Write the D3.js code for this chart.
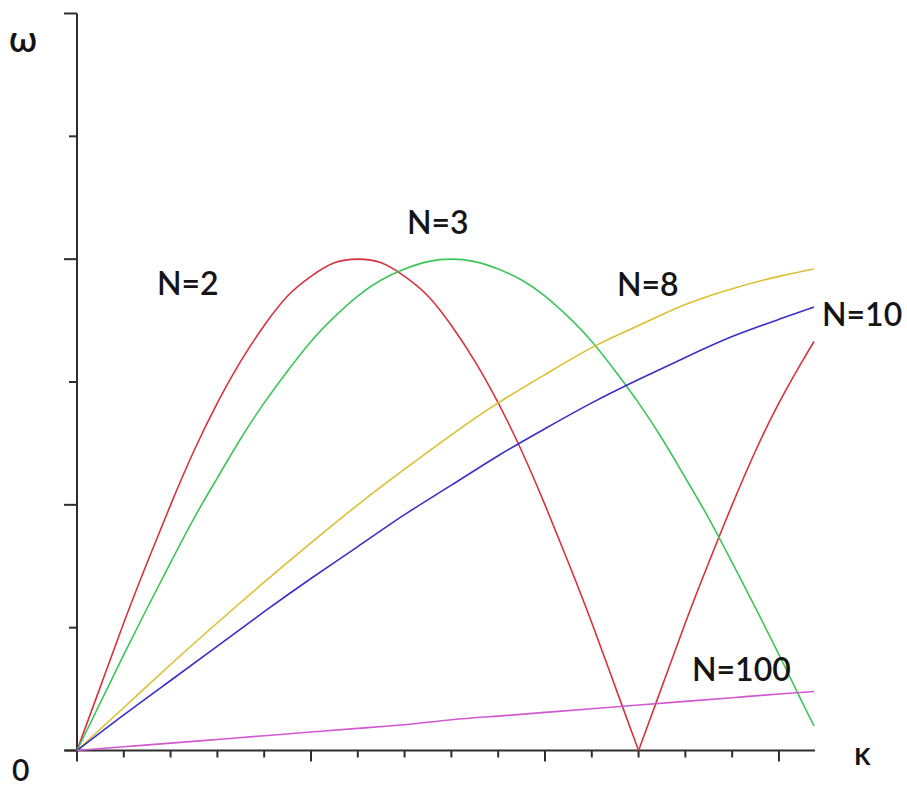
<!DOCTYPE html>
<html>
<head>
<meta charset="utf-8">
<script src="https://cdn.jsdelivr.net/npm/d3@7"></script>
<style>
  html, body { margin: 0; padding: 0; background: #ffffff; }
  svg { display: block; }
  text { font-family: Lato, "Open Sans", "DejaVu Sans", sans-serif; fill: #151515; font-weight: 600; }
</style>
</head>
<body>
<svg id="chart" width="907" height="787"></svg>
<script>
// ---- data ----
const kFine = [0,0.5,1,1.5,2,2.5,3,3.5,4,4.5,5,5.5,6,6.5,7,7.5,8,8.5,9,9.5,10,10.5,11,11.5,12,12.5,13,13.5,14,14.5,15,15.5,15.75];
const kCoarse = [0,1,2,3,4,5,6,7,8,9,10,11,12,13,14,15,15.75];

const omegaN2 = [0,0.52,1.04,1.53,2.00,2.44,2.83,3.17,3.46,3.70,3.86,3.97,4.00,3.97,3.86,3.70,3.46,3.17,2.83,2.44,2.00,1.53,1.04,0.52,0,0.52,1.04,1.53,2.00,2.44,2.83,3.17,3.33];
const omegaN3 = [0,0.39,0.78,1.16,1.53,1.89,2.22,2.54,2.83,3.09,3.33,3.53,3.70,3.83,3.92,3.98,4.00,3.98,3.92,3.83,3.70,3.53,3.33,3.09,2.83,2.54,2.22,1.89,1.53,1.16,0.78,0.39,0.20];
const omegaN8 = [0,0.35,0.70,1.04,1.37,1.69,2.00,2.29,2.57,2.83,3.06,3.28,3.46,3.63,3.76,3.86,3.92];
const omegaN10 = [0,0.29,0.57,0.85,1.13,1.40,1.66,1.92,2.16,2.40,2.62,2.83,3.02,3.20,3.37,3.51,3.61];
const omegaN100 = [0,0.03,0.06,0.09,0.12,0.15,0.18,0.21,0.25,0.28,0.31,0.34,0.37,0.40,0.43,0.46,0.48];

const seriesNames = ["N=2","N=3","N=8","N=10","N=100"];
const seriesColors = ["#d8323f","#3cc65a","#dcc030","#3a2fc8","#d058d0"];

const xMajorTicks = [0,5,10,15];
const xMinorTicks = [1,2,3,4,6,7,8,9,11,12,13,14];
const yMajorTicks = [0,2,4,6];
const yMinorTicks = [1,3,5];

// ---- layout ----
const svg = d3.select("#chart");
const x = d3.scaleLinear().domain([0, 15.77]).range([77, 815]);
const y = d3.scaleLinear().domain([0, 6]).range([750.5, 13.5]);

const axisColor = "#2e2e2e";

svg.append("line")
  .attr("x1", x(0)).attr("x2", x(0))
  .attr("y1", y(6)).attr("y2", y(0))
  .attr("stroke", axisColor).attr("stroke-width", 2);
svg.append("line")
  .attr("x1", 65).attr("x2", x(15.77))
  .attr("y1", y(0)).attr("y2", y(0))
  .attr("stroke", axisColor).attr("stroke-width", 2);

svg.selectAll(".ymaj").data(yMajorTicks).enter().append("line")
  .attr("x1", x(0) - 13).attr("x2", x(0))
  .attr("y1", d => y(d)).attr("y2", d => y(d))
  .attr("stroke", axisColor).attr("stroke-width", 2);
svg.selectAll(".ymin").data(yMinorTicks).enter().append("line")
  .attr("x1", x(0) - 8).attr("x2", x(0))
  .attr("y1", d => y(d)).attr("y2", d => y(d))
  .attr("stroke", axisColor).attr("stroke-width", 2);

svg.selectAll(".xmaj").data(xMajorTicks).enter().append("line")
  .attr("x1", d => x(d)).attr("x2", d => x(d))
  .attr("y1", y(0)).attr("y2", y(0) + 11)
  .attr("stroke", axisColor).attr("stroke-width", 2);
svg.selectAll(".xmin").data(xMinorTicks).enter().append("line")
  .attr("x1", d => x(d)).attr("x2", d => x(d))
  .attr("y1", y(0)).attr("y2", y(0) + 7)
  .attr("stroke", axisColor).attr("stroke-width", 2);

// curves: smooth pieces, split where the value touches zero inside the series (cusp)
const series = [
  { k: kFine, w: omegaN2 },
  { k: kFine, w: omegaN3 },
  { k: kCoarse, w: omegaN8 },
  { k: kCoarse, w: omegaN10 },
  { k: kCoarse, w: omegaN100 }
];
const line = d3.line().x(d => x(d[0])).y(d => y(d[1])).curve(d3.curveNatural);
series.forEach((s, i) => {
  const pts = s.k.map((kv, j) => [kv, s.w[j]]);
  const pieces = [];
  let cur = [];
  pts.forEach((p, j) => {
    cur.push(p);
    if (j > 0 && j < pts.length - 1 && p[1] === 0) { pieces.push(cur); cur = [p]; }
  });
  pieces.push(cur);
  pieces.forEach(pc => {
    svg.append("path")
      .attr("d", line(pc))
      .attr("fill", "none")
      .attr("stroke", seriesColors[i])
      .attr("stroke-width", 1.6)
      .attr("stroke-linejoin", "round");
  });
});

const labelPos = [
  { t: seriesNames[0], x: 157, y: 295 },
  { t: seriesNames[1], x: 407, y: 234 },
  { t: seriesNames[2], x: 617, y: 296 },
  { t: seriesNames[3], x: 822, y: 326 },
  { t: seriesNames[4], x: 692, y: 681 }
];
svg.selectAll(".lbl").data(labelPos).enter().append("text")
  .attr("x", d => d.x).attr("y", d => d.y)
  .attr("font-size", 32)
  .text(d => d.t);

svg.append("text").attr("x", 9).attr("y", 52).attr("font-size", 36).text("ω");
svg.append("text").attr("x", 12).attr("y", 781).attr("font-size", 30).text("0");
svg.append("text").attr("x", 854).attr("y", 765).attr("font-size", 32).text("κ");
</script>
</body>
</html>
